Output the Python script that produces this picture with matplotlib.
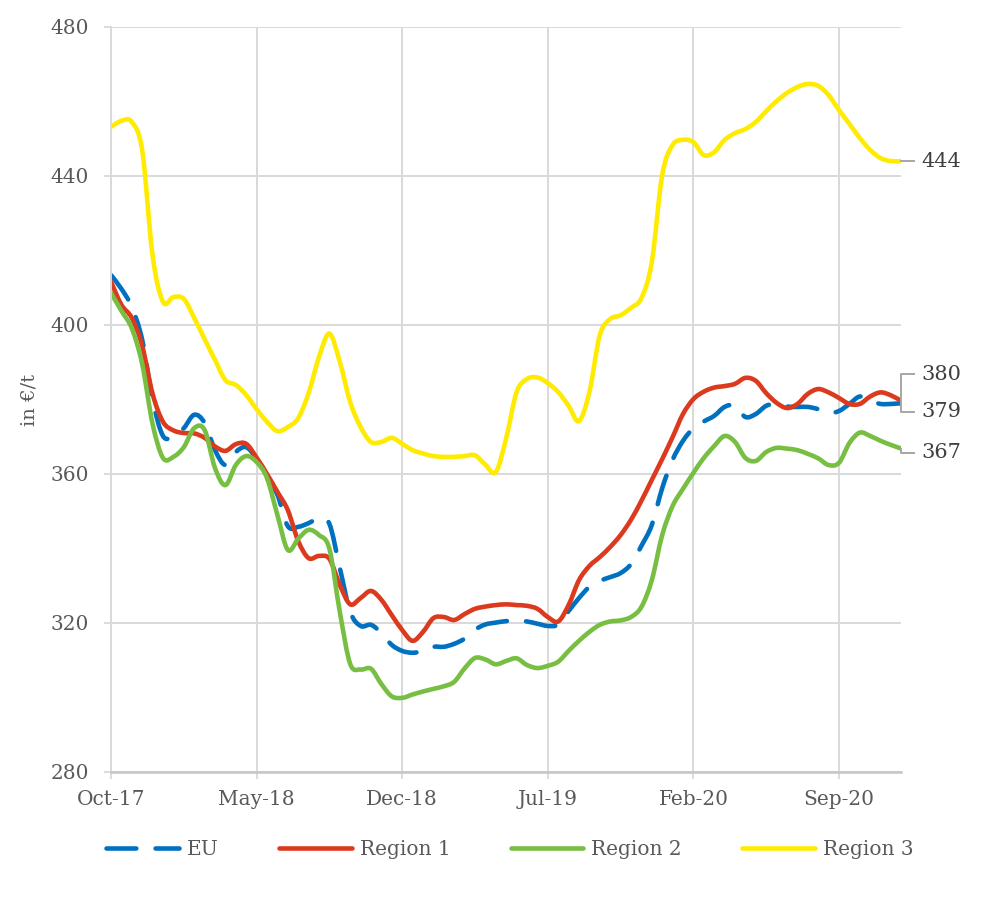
import numpy as np
import matplotlib
matplotlib.use("Agg")
import matplotlib.pyplot as plt
from matplotlib.path import Path
from matplotlib.patches import PathPatch
from matplotlib.lines import Line2D

# ---- data (semi-monthly readings, months since Oct-17) ----
months = np.arange(0, 38.5, 0.5)
tick_months = [0, 7, 14, 21, 28, 35]
tick_labels = ["Oct-17", "May-18", "Dec-18", "Jul-19", "Feb-20", "Sep-20"]

eu = [413.4, 409.7, 404.8, 396.0, 379.9, 370.2, 370.2, 372.3, 375.9, 373.7,
      366.4, 362.4, 365.9, 367.2, 364.0, 358.9, 354.4, 346.0, 345.8, 346.8,
      348.1, 346.6, 334.8, 323.0, 319.2, 319.5, 317.3, 314.1, 312.5, 312.0,
      312.5, 313.6, 313.6, 314.4, 315.8, 318.2, 319.6, 320.1, 320.5, 320.7,
      320.4, 319.8, 319.2, 319.6, 323.2, 326.7, 329.7, 331.3, 332.3, 333.4,
      335.8, 340.7, 346.3, 356.2, 363.8, 368.9, 372.3, 374.1, 375.6, 378.0,
      378.4, 375.3, 376.1, 378.3, 378.8, 378.1, 378.0, 378.0, 377.4, 376.4,
      376.9, 378.8, 380.8, 379.7, 378.8, 378.8, 379.0]

region1 = [411.6, 405.4, 401.9, 394.4, 381.5, 374.0, 371.7, 371.0, 370.9, 369.7,
           367.4, 366.2, 368.0, 368.1, 364.4, 360.0, 355.2, 350.3, 342.0, 337.4,
           338.0, 337.2, 330.2, 325.0, 326.7, 328.6, 326.2, 322.1, 318.1, 315.2,
           317.6, 321.3, 321.6, 320.8, 322.4, 323.8, 324.4, 324.8, 325.0, 324.8,
           324.6, 323.8, 321.6, 320.4, 324.8, 331.5, 335.3, 337.7, 340.4, 343.6,
           347.7, 352.8, 358.4, 364.0, 369.9, 376.1, 380.1, 382.1, 383.2, 383.6,
           384.2, 385.8, 385.0, 381.7, 379.1, 377.7, 378.8, 381.5, 382.8, 381.9,
           380.4, 378.8, 378.8, 380.8, 381.9, 381.1, 379.6]

region2 = [408.6, 403.8, 399.1, 389.5, 373.4, 364.3, 364.6, 367.2, 372.3, 371.8,
           361.6, 357.0, 362.4, 364.8, 363.2, 358.9, 349.0, 339.6, 342.6, 345.0,
           343.6, 339.9, 323.0, 309.0, 307.5, 307.7, 303.6, 300.3, 299.9, 300.8,
           301.6, 302.3, 303.0, 304.2, 307.8, 310.6, 310.2, 308.9, 309.8, 310.5,
           308.7, 307.9, 308.5, 309.6, 312.5, 315.2, 317.6, 319.5, 320.4, 320.7,
           321.6, 324.3, 331.5, 343.6, 351.4, 356.0, 360.3, 364.3, 367.5, 370.2,
           368.6, 364.3, 363.5, 365.9, 367.0, 366.8, 366.4, 365.4, 364.2, 362.4,
           363.0, 368.3, 371.1, 370.2, 368.9, 367.8, 366.8]

region3 = [453.2, 454.8, 454.5, 446.9, 418.6, 406.2, 407.5, 407.0, 401.9, 396.2,
           390.6, 385.2, 383.9, 381.2, 377.4, 374.0, 371.5, 372.6, 375.0, 381.7,
           391.4, 397.7, 390.1, 379.3, 372.6, 368.6, 368.6, 369.7, 368.1, 366.4,
           365.5, 364.8, 364.6, 364.6, 364.8, 365.0, 362.5, 360.5, 369.6, 382.0,
           385.5, 385.9, 384.4, 382.0, 378.3, 374.2, 382.0, 397.3, 401.6, 402.6,
           404.6, 407.2, 416.9, 440.3, 448.3, 449.7, 449.1, 445.6, 446.4, 449.7,
           451.5, 452.6, 454.5, 457.4, 460.1, 462.3, 463.9, 464.7, 464.2, 461.7,
           457.7, 454.0, 450.2, 447.0, 444.8, 444.0, 444.0]

series_names = ["EU", "Region 1", "Region 2", "Region 3"]
colors = ["#0070C0", "#DC3A1E", "#78BE43", "#FFEB00"]


def smooth_path(x, y):
    """Smoothed-line path (Bezier through every reading, like a spreadsheet's smoothed line)."""
    p = np.column_stack([np.asarray(x, float), np.asarray(y, float)])
    n = len(p)
    verts = [p[0]]
    codes = [Path.MOVETO]
    for i in range(n - 1):
        p0 = p[i - 1] if i > 0 else p[i]
        p3 = p[i + 2] if i + 2 < n else p[i + 1]
        c1 = p[i] + (p[i + 1] - p0) / 6.0
        c2 = p[i + 1] - (p3 - p[i]) / 6.0
        verts += [c1, c2, p[i + 1]]
        codes += [Path.CURVE4] * 3
    return Path(verts, codes)


# ---- figure ----
plt.rcParams['font.family'] = ['DejaVu Serif']
fig = plt.figure(figsize=(10, 8.97), dpi=100)
ax = fig.add_axes([0.111, 0.1394, 0.7904, 0.8305])

lw = 3.3
styles = [(0, (6.5, 4.2)), '-', '-', '-']
handles = []
for vals, name, col, ls in zip([eu, region1, region2, region3], series_names, colors, styles):
    patch = PathPatch(smooth_path(months, vals), facecolor='none', edgecolor=col,
                      lw=lw, linestyle=ls, capstyle='round', joinstyle='round')
    ax.add_patch(patch)
    handles.append(Line2D([], [], color=col, lw=lw, linestyle=ls,
                          dash_capstyle='round', solid_capstyle='round', label=name))

ax.set_xlim(0, 38)
ax.set_ylim(280, 480)
ax.set_yticks(np.arange(280, 481, 40))
ax.set_xticks(tick_months)
ax.set_xticklabels(tick_labels)

grid_c = "#d9d9d9"
ax.grid(True, color=grid_c, lw=1.4)
ax.set_axisbelow(True)
for s in ["top", "right"]:
    ax.spines[s].set_visible(False)
ax.spines["left"].set_color(grid_c)
ax.spines["left"].set_linewidth(1.4)
ax.spines["bottom"].set_color("#c6c6c6")
ax.spines["bottom"].set_linewidth(1.8)

txt_c = "#595959"
ax.tick_params(axis='y', length=5, width=1.3, color=grid_c, pad=11,
               labelsize=14.5, labelcolor=txt_c)
ax.tick_params(axis='x', length=5, width=1.3, color=grid_c, pad=8,
               labelsize=14.5, labelcolor=txt_c)

fig.text(0.030, 0.5546, "in €/t", rotation=90, ha='center', va='center',
         fontsize=14, color=txt_c)

# ---- end labels ----
lead_c = "#a6a6a6"
end_x = months[-1]
lx = end_x + 0.6
tx = end_x + 0.95
lab_c = "#404040"
fs_lab = 15
ax.plot([end_x, lx], [region3[-1], region3[-1]], color=lead_c, lw=1.4, clip_on=False)
ax.text(tx, region3[-1], f"{region3[-1]:.0f}", va='center', ha='left',
        fontsize=fs_lab, color=lab_c, clip_on=False)
y_hi, y_lo = 386.8, 376.7
ax.plot([lx, end_x, end_x, lx], [y_hi, y_hi, y_lo, y_lo], color=lead_c, lw=1.4,
        clip_on=False)
ax.text(tx, y_hi, f"{region1[-1]:.0f}", va='center', ha='left',
        fontsize=fs_lab, color=lab_c, clip_on=False)
ax.text(tx, y_lo, f"{eu[-1]:.0f}", va='center', ha='left',
        fontsize=fs_lab, color=lab_c, clip_on=False)
y_g = 365.7
ax.plot([end_x, end_x, lx], [region2[-1], y_g, y_g], color=lead_c, lw=1.4,
        clip_on=False)
ax.text(tx, y_g, f"{region2[-1]:.0f}", va='center', ha='left',
        fontsize=fs_lab, color=lab_c, clip_on=False)

# ---- legend ----
fig.legend(handles=handles, loc='center', bbox_to_anchor=(0.51, 0.0524), ncol=4,
           frameon=False, fontsize=14.5, handlelength=3.6, handletextpad=0.4,
           columnspacing=3.0, labelcolor=txt_c)

fig.savefig("out.png", dpi=100)
